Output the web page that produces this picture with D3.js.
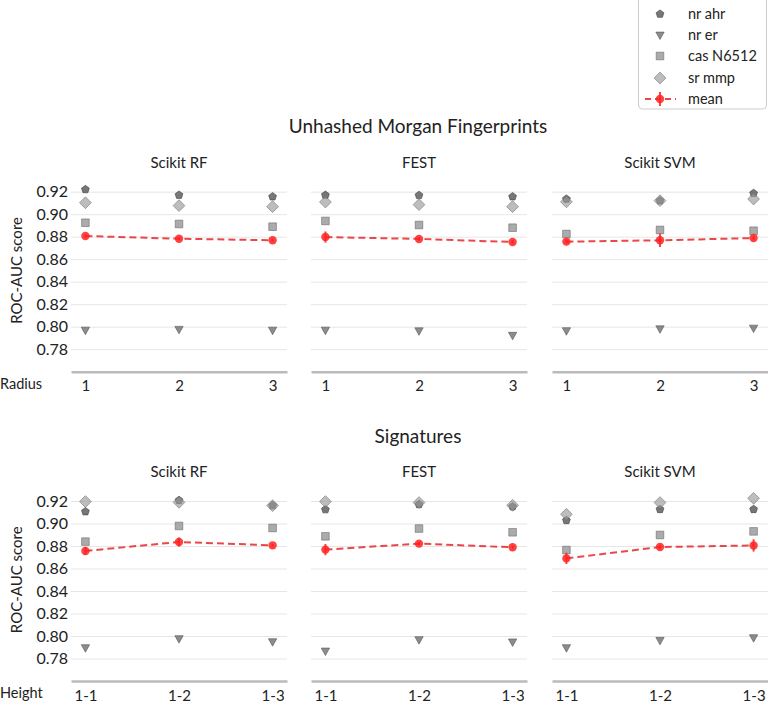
<!DOCTYPE html>
<html><head><meta charset="utf-8">
<script src="https://cdn.jsdelivr.net/npm/d3@7"></script>
<style>body{margin:0;background:#fff;} text{font-family:Lato, "DejaVu Sans", sans-serif;fill:#222;}</style>
</head><body>
<svg id="c" width="768" height="704"></svg>
<script>
const sectionTitles = ["Unhashed Morgan Fingerprints", "Signatures"];
const models = ["Scikit RF", "FEST", "Scikit SVM"];
const radiusTicks = ["1", "2", "3"];
const heightTicks = ["1-1", "1-2", "1-3"];
const xLabels = ["Radius", "Height"];
const seriesNames = ["nr ahr", "nr er", "cas N6512", "sr mmp"];
const yTicks = [0.78, 0.80, 0.82, 0.84, 0.86, 0.88, 0.90, 0.92];

// Unhashed Morgan: [model][tick]
const morganAhr = [[0.922, 0.917, 0.9156], [0.917, 0.9168, 0.9156], [0.9135, 0.912, 0.9186]];
const morganEr  = [[0.797, 0.7977, 0.797], [0.797, 0.7964, 0.7924], [0.7965, 0.7982, 0.7988]];
const morganCas = [[0.8924, 0.8913, 0.8889], [0.894, 0.8904, 0.888], [0.8824, 0.886, 0.8853]];
const morganMmp = [[0.9102, 0.9076, 0.9067], [0.9108, 0.9085, 0.9067], [0.911, 0.912, 0.9135]];
const morganMean = [[0.8806, 0.8782, 0.8768], [0.8797, 0.878, 0.8753], [0.8756, 0.8768, 0.8788]];
const morganErr = [[0.0015, 0.0015, 0.0015], [0.005, 0.0015, 0.002], [0.002, 0.006, 0.002]];

// Signatures
const sigAhr = [[0.9106, 0.9206, 0.916], [0.9124, 0.917, 0.915], [0.9028, 0.9126, 0.9126]];
const sigEr  = [[0.7897, 0.7977, 0.795], [0.7867, 0.7968, 0.7948], [0.7897, 0.7962, 0.7986]];
const sigCas = [[0.8839, 0.8978, 0.896], [0.8886, 0.8955, 0.8922], [0.8764, 0.8898, 0.893]];
const sigMmp = [[0.9195, 0.9188, 0.9159], [0.9195, 0.9186, 0.9162], [0.9082, 0.9186, 0.9224]];
const sigMean = [[0.8756, 0.8836, 0.8806], [0.8768, 0.8821, 0.8789], [0.869, 0.8791, 0.8805]];
const sigErr = [[0.0035, 0.004, 0.0015], [0.005, 0.0015, 0.0015], [0.005, 0.002, 0.0055]];

const sections = [
  {title: sectionTitles[0], ticks: radiusTicks, xlab: xLabels[0], series: [morganAhr, morganEr, morganCas, morganMmp], mean: morganMean, err: morganErr, top: 180.45, bottom: 371.7, titleY: 133, subY: 168},
  {title: sectionTitles[1], ticks: heightTicks, xlab: xLabels[1], series: [sigAhr, sigEr, sigCas, sigMmp], mean: sigMean, err: sigErr, top: 489.75, bottom: 681, titleY: 443, subY: 477}
];

const svg = d3.select("#c");
const panelX = [71, 311, 552];
const panelW = 216;

const markerStyles = [
  {type: "pentagon", size: 40, fill: "#555", stroke: "#444", op: 0.8},
  {type: "triangle", size: 48, fill: "#666", stroke: "#555", op: 0.75},
  {type: "square", size: 58, fill: "#888", stroke: "#666", op: 0.7},
  {type: "diamond", size: 62, fill: "#999", stroke: "#666", op: 0.65}
];

function symPath(type, size) {
  if (type === "pentagon") {
    const r = Math.sqrt(size / 2.38);
    const pts = d3.range(5).map(i => {
      const a = -Math.PI / 2 + i * 2 * Math.PI / 5;
      return [r * Math.cos(a), r * Math.sin(a)];
    });
    return "M" + pts.map(p => p.join(",")).join("L") + "Z";
  }
  if (type === "triangle") {
    const s = Math.sqrt(size) * 1.2;
    return `M${-s/2},${-s*0.35}L${s/2},${-s*0.35}L0,${s*0.55}Z`;
  }
  if (type === "square") {
    const s = Math.sqrt(size);
    return `M${-s/2},${-s/2}h${s}v${s}h${-s}Z`;
  }
  if (type === "diamond") {
    const s = Math.sqrt(size) * 0.75;
    return `M0,${-s}L${s},0L0,${s}L${-s},0Z`;
  }
}

sections.forEach(sec => {
  const y = d3.scaleLinear().domain([0.76, 0.93]).range([sec.bottom, sec.top]);
  svg.append("text").attr("x", 418).attr("y", sec.titleY).attr("text-anchor", "middle")
    .attr("font-size", 19).text(sec.title);
  const yMid = (y(0.78) + y(0.92)) / 2;
  svg.append("text").attr("transform", `translate(22,${yMid}) rotate(-90)`)
    .attr("text-anchor", "middle").attr("font-size", 15).text("ROC-AUC score");
  svg.append("text").attr("x", 0).attr("y", sec.bottom + 17).attr("font-size", 14.5).text(sec.xlab);

  models.forEach((m, mi) => {
    const x0 = panelX[mi];
    const x = d3.scalePoint().domain(sec.ticks).range([x0, x0 + panelW]).padding(0.154);
    const g = svg.append("g");
    g.append("text").attr("x", x0 + panelW / 2).attr("y", sec.subY).attr("text-anchor", "middle")
      .attr("font-size", 15).text(m);
    const yAxis = d3.axisLeft(y).tickValues(yTicks).tickSize(-panelW).tickFormat(d3.format(".2f"));
    const ga = g.append("g").attr("transform", `translate(${x0},0)`).call(yAxis);
    ga.select(".domain").remove();
    ga.selectAll(".tick line").attr("stroke", "#e6e6e6").attr("stroke-width", 1);
    ga.selectAll(".tick text").attr("font-size", 16).attr("fill", "#222").attr("x", -3)
      .style("font-family", "Lato, sans-serif")
      .style("display", mi === 0 ? null : "none");
    const xAxis = d3.axisBottom(x).tickSize(0).tickPadding(9);
    const gx = g.append("g").attr("transform", `translate(0,${sec.bottom})`).call(xAxis);
    gx.select(".domain").attr("stroke", "#bbb").attr("stroke-width", 2.5);
    gx.selectAll(".tick text").attr("font-size", 15).attr("fill", "#222").style("font-family", "Lato, sans-serif");

    sec.series.forEach((ser, si) => {
      const st = markerStyles[si];
      g.selectAll(null).data(ser[mi]).enter().append("path")
        .attr("d", symPath(st.type, st.size))
        .attr("transform", (d, i) => `translate(${x(sec.ticks[i])},${y(d)})`)
        .attr("fill", st.fill).attr("fill-opacity", st.op)
        .attr("stroke", st.stroke).attr("stroke-opacity", st.op).attr("stroke-width", 0.8);
    });
    const mv = sec.mean[mi], ev = sec.err[mi];
    const line = d3.line().x((d, i) => x(sec.ticks[i])).y(d => y(d));
    g.append("path").attr("d", line(mv)).attr("fill", "none").attr("stroke", "#e8272a")
      .attr("stroke-opacity", 0.85).attr("stroke-width", 2).attr("stroke-dasharray", "7,4");
    g.selectAll(null).data(mv).enter().append("line")
      .attr("x1", (d, i) => x(sec.ticks[i])).attr("x2", (d, i) => x(sec.ticks[i]))
      .attr("y1", (d, i) => y(d - ev[i])).attr("y2", (d, i) => y(d + ev[i]))
      .attr("stroke", "#f22").attr("stroke-opacity", 0.85).attr("stroke-width", 2);
    g.selectAll(null).data(mv).enter().append("circle")
      .attr("cx", (d, i) => x(sec.ticks[i])).attr("cy", d => y(d)).attr("r", 4.2)
      .attr("fill", "#f22").attr("fill-opacity", 0.85);
  });
});

// legend
const lg = svg.append("g");
lg.append("rect").attr("x", 638.5).attr("y", -4).attr("width", 128).attr("height", 113).attr("rx", 4)
  .attr("fill", "#fff").attr("stroke", "#ccc");
const legendY = [14, 35, 56, 78];
seriesNames.forEach((n, i) => {
  const st = markerStyles[i];
  lg.append("path").attr("d", symPath(st.type, st.size))
    .attr("transform", `translate(660,${legendY[i]})`)
    .attr("fill", st.fill).attr("fill-opacity", st.op)
    .attr("stroke", st.stroke).attr("stroke-opacity", st.op).attr("stroke-width", 0.8);
  lg.append("text").attr("x", 688).attr("y", legendY[i] + 5).attr("font-size", 14.5).text(n);
});
lg.append("line").attr("x1", 645).attr("x2", 676).attr("y1", 99).attr("y2", 99)
  .attr("stroke", "#e8272a").attr("stroke-width", 2).attr("stroke-dasharray", "6,4").attr("stroke-opacity", 0.85);
lg.append("line").attr("x1", 660).attr("x2", 660).attr("y1", 92).attr("y2", 106)
  .attr("stroke", "#f22").attr("stroke-width", 2).attr("stroke-opacity", 0.85);
lg.append("circle").attr("cx", 660).attr("cy", 99).attr("r", 4.2).attr("fill", "#f22").attr("fill-opacity", 0.85);
lg.append("text").attr("x", 688).attr("y", 104).attr("font-size", 14.5).text("mean");
</script>
</body></html>
